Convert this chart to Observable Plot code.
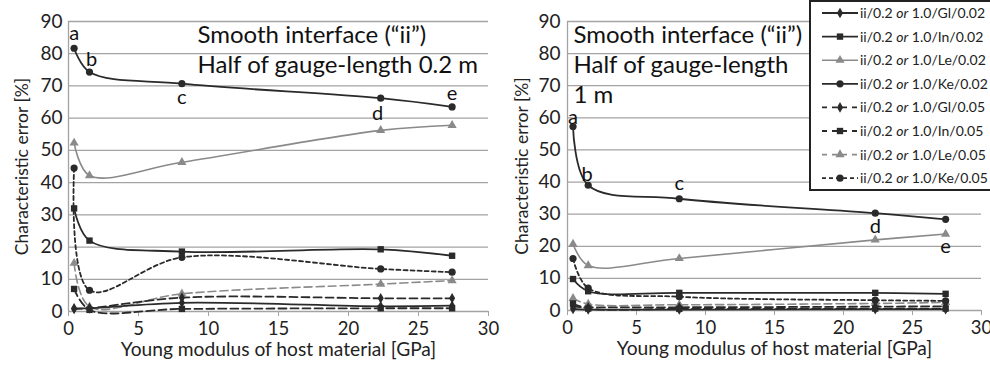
<!DOCTYPE html>
<html><head><meta charset="utf-8">
<script src="https://cdn.jsdelivr.net/npm/d3@7"></script>
<script src="https://cdn.jsdelivr.net/npm/@observablehq/plot@0.6"></script>
<style>
body{margin:0;background:#fff;font-family:Lato,"Open Sans",sans-serif;}
#wrap{position:relative;width:990px;height:370px;overflow:hidden;background:#fff;}
#wrap > svg{position:absolute;top:0;}
#legend{position:absolute;left:809px;top:8px;}
</style></head><body><div id="wrap"></div>
<script>
// ---------- data ----------
const xGPa = [0.4, 1.5, 8.1, 22.3, 27.4];
const pointLetters = ["a", "b", "c", "d", "e"];
const yTicks = [0, 10, 20, 30, 40, 50, 60, 70, 80, 90];
const xTicks = [0, 5, 10, 15, 20, 25, 30];
const seriesLabels = [
  "ii/0.2 or 1.0/Gl/0.02", "ii/0.2 or 1.0/In/0.02", "ii/0.2 or 1.0/Le/0.02", "ii/0.2 or 1.0/Ke/0.02",
  "ii/0.2 or 1.0/Gl/0.05", "ii/0.2 or 1.0/In/0.05", "ii/0.2 or 1.0/Le/0.05", "ii/0.2 or 1.0/Ke/0.05"
];
const xLabel = "Young modulus of host material [GPa]";
const yLabel = "Characteristic error [%]";
const leftTitle = "Smooth interface (\u201Cii\u201D)\nHalf of gauge-length 0.2 m";
const rightTitle = "Smooth interface (\u201Cii\u201D)\nHalf of gauge-length\n1 m";

// half of gauge-length 0.2 m (left panel)
const left_Gl_002 = [1.0, 1.0, 2.7, 1.6, 1.8];
const left_In_002 = [32.0, 22.0, 18.6, 19.3, 17.3];
const left_Le_002 = [52.3, 42.2, 46.3, 56.2, 57.8];
const left_Ke_002 = [81.7, 74.3, 70.7, 66.2, 63.5];
const left_Gl_005 = [0.8, 1.0, 4.3, 4.1, 4.1];
const left_In_005 = [7.0, 0.5, 0.8, 1.0, 1.0];
const left_Le_005 = [15.0, 1.5, 5.5, 8.5, 9.6];
const left_Ke_005 = [44.5, 6.6, 16.8, 13.2, 12.2];

// half of gauge-length 1 m (right panel)
const right_Gl_002 = [0.5, 0.3, 0.3, 0.4, 0.4];
const right_In_002 = [9.8, 6.0, 5.5, 5.5, 5.2];
const right_Le_002 = [20.7, 14.0, 16.2, 22.0, 23.8];
const right_Ke_002 = [57.3, 39.0, 34.8, 30.3, 28.4];
const right_Gl_005 = [1.2, 1.0, 1.0, 1.2, 1.3];
const right_In_005 = [2.2, 0.6, 0.5, 0.6, 0.6];
const right_Le_005 = [3.8, 2.0, 1.8, 2.2, 2.5];
const right_Ke_005 = [16.2, 7.0, 4.3, 3.2, 3.0];

// ---------- styles ----------
const BLACK = "#2a2a2a", GRAY = "#8a8a8a", GRID = "#a3a3a3";
const seriesStyles = [
  {stroke: BLACK, dash: null, symbol: "diamond", r: 3.2, w: 1.8},
  {stroke: BLACK, dash: null, symbol: "square", r: 3.6, w: 1.8},
  {stroke: GRAY, dash: null, symbol: "triangle", r: 3.4, w: 1.6},
  {stroke: BLACK, dash: null, symbol: "circle", r: 3.6, w: 1.8},
  {stroke: BLACK, dash: "8,4", symbol: "diamond", r: 3.2, w: 1.8},
  {stroke: BLACK, dash: "8,4", symbol: "square", r: 3.6, w: 1.8},
  {stroke: GRAY, dash: "8,4", symbol: "triangle", r: 3.4, w: 1.6},
  {stroke: BLACK, dash: "4,3", symbol: "circle", r: 3.6, w: 1.8}
];
const drawOrder = [6, 4, 5, 0, 7, 1, 2, 3];
const FONT = "Lato, 'Open Sans', sans-serif";

function panel(series, cfg) {
  const rows = series.map((vals, s) => vals.map((v, i) => ({x: xGPa[i], y: v, s})));
  const marks = [
    Plot.gridY(yTicks, {stroke: GRID, strokeOpacity: 1, strokeWidth: 1.3}),
    Plot.ruleX([0], {y1: 0, y2: 90, stroke: GRID, strokeWidth: 1.3}),
    Plot.axisX({ticks: xTicks, tickSize: 5, stroke: GRID, tickFormat: () => "", label: null}),
    Plot.axisX({ticks: xTicks, tickSize: 0, tickPadding: 10, fill: "#222", fontSize: 18.5, label: null}),
    Plot.axisY({ticks: yTicks, tickSize: 0, tickPadding: cfg.yPad, fill: "#222", fontSize: 19, label: null}),
    Plot.text([xLabel], {frameAnchor: "bottom", dy: 38.5, lineAnchor: "middle", fontSize: 19.2, fill: "#222"}),
    Plot.text([yLabel], {frameAnchor: "left", dx: -cfg.yLabOff, rotate: -90, textAnchor: "middle",
      lineAnchor: "middle", fontSize: 17.5, fill: "#222"}),
    Plot.text([cfg.title], {frameAnchor: "top-left", dx: cfg.titleDx, dy: 0, lineAnchor: "top",
      textAnchor: "start", fontSize: 24, lineHeight: 1.25, fill: "#111"})
  ];
  for (const s of drawOrder) {
    const st = seriesStyles[s];
    const d = rows[s];
    marks.push(Plot.line(d, {x: "x", y: "y", curve: "catmull-rom", stroke: st.stroke,
      strokeWidth: st.w, strokeDasharray: st.dash}));
    marks.push(Plot.dot(d, {x: "x", y: "y", symbol: () => st.symbol, r: st.r, fill: st.stroke, stroke: "none"}));
  }
  const ke = series[3];
  pointLetters.forEach((L, i) => {
    marks.push(Plot.text([L], {x: () => xGPa[i], y: () => ke[i], dx: cfg.lab[i][0], dy: cfg.lab[i][1],
      fontSize: 20, fill: "#111"}));
  });
  return Plot.plot({
    width: cfg.width, height: 370,
    marginLeft: cfg.ml, marginRight: cfg.mr, marginTop: cfg.mt, marginBottom: cfg.mb,
    x: {domain: [0, 30]}, y: {domain: [0, 90]},
    symbol: {type: "identity"},
    style: {fontFamily: FONT, background: "transparent", color: "#222", overflow: "visible"},
    marks
  });
}

const wrap = document.getElementById("wrap");
const left = panel(
  [left_Gl_002, left_In_002, left_Le_002, left_Ke_002, left_Gl_005, left_In_005, left_Le_005, left_Ke_005],
  {width: 495, ml: 68, mr: 7, mt: 21, mb: 59, yPad: 6, yLabOff: 46, titleDx: 129, title: leftTitle,
   lab: [[0, -15], [2, -12], [0, 14], [-3, 15], [0, -13]]});
left.style.left = "0px";
wrap.appendChild(left);
const right = panel(
  [right_Gl_002, right_In_002, right_Le_002, right_Ke_002, right_Gl_005, right_In_005, right_Le_005, right_Ke_005],
  {width: 495, ml: 72, mr: 9, mt: 21, mb: 60, yPad: 7, yLabOff: 45, titleDx: 6, title: rightTitle,
   lab: [[0, -9], [-1, -11], [0, -15], [0, 13], [0, 27]]});
right.style.left = "495px";
wrap.appendChild(right);

// ---------- legend ----------
const lg = d3.select(wrap).append("svg").attr("id", "legend").attr("width", 200).attr("height", 192);
lg.append("rect").attr("x", 1).attr("y", 1).attr("width", 200).attr("height", 189)
  .attr("fill", "#fff").attr("stroke", "#222").attr("stroke-width", 2);
const symMap = {diamond: d3.symbolDiamond, square: d3.symbolSquare, triangle: d3.symbolTriangle, circle: d3.symbolCircle};
seriesLabels.forEach((lab, k) => {
  const st = seriesStyles[k];
  const cy = 13 + k * 23.6;
  const g = lg.append("g").attr("transform", `translate(0,${cy})`);
  g.append("line").attr("x1", 13).attr("x2", 49).attr("y1", 0).attr("y2", 0)
    .attr("stroke", st.stroke).attr("stroke-width", st.w).attr("stroke-dasharray", st.dash ? (k === 7 ? "4,3" : "5,5") : null);
  g.append("path").attr("transform", "translate(31,0)")
    .attr("d", d3.symbol(symMap[st.symbol], Math.PI * st.r * st.r)()).attr("fill", st.stroke);
  const parts = lab.split(" or ");
  const t = g.append("text").attr("x", 51).attr("y", 5).attr("font-size", 14)
    .attr("font-family", FONT).attr("fill", "#222");
  t.append("tspan").text(parts[0] + " ");
  t.append("tspan").attr("font-style", "italic").text("or");
  t.append("tspan").text(" " + parts[1]);
});
</script></body></html>
